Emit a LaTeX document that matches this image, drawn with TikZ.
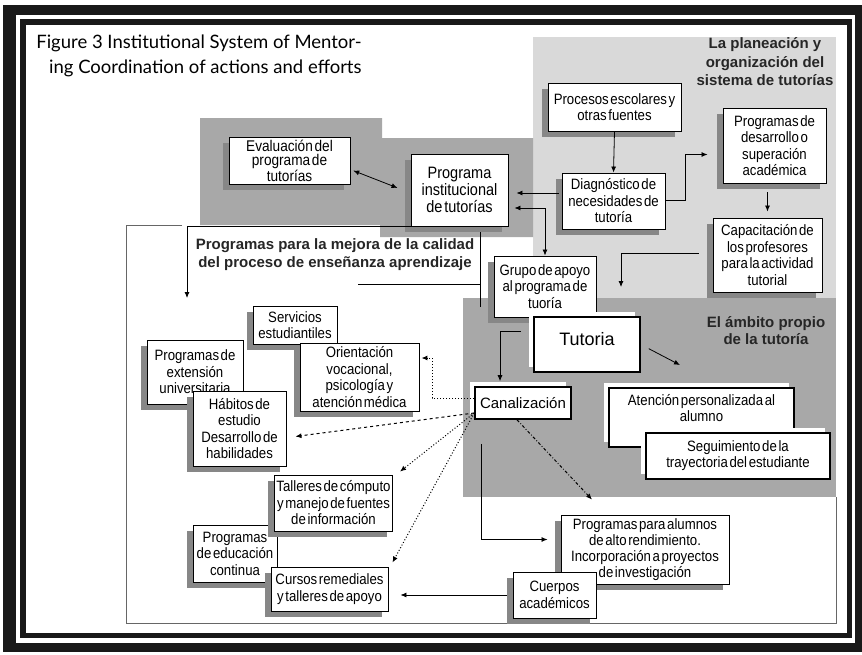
\documentclass[tikz,border=0pt]{standalone}
\usepackage{fontspec}
\setmainfont{Liberation Sans}
\newfontfamily\boxfont{Liberation Sans}[WordSpace=0.45, FakeStretch=0.88]
\newfontfamily\titlefont{Lato}
\usepackage{tikz}
\usetikzlibrary{arrows.meta,shadows}
\definecolor{plangray}{gray}{0.85}
\definecolor{tutorgray}{gray}{0.66}
\definecolor{shadowgray}{gray}{0.53}
\tikzset{
    shadow-box/.style = {draw, fill=white, line width=0.9pt, rectangle, align=center, inner sep=2pt, font=\boxfont\fontsize{15}{16.5}\selectfont, drop shadow={shadow xshift=-6pt, shadow yshift=-6pt, fill=shadowgray, opacity=1}},
    light-box/.style = {draw, fill=white, line width=1.6pt, rectangle, align=center, inner sep=3pt, font=\boxfont\fontsize{15}{16}\selectfont, drop shadow={shadow xshift=-5pt, shadow yshift=5pt, fill=white, opacity=1}},
    region-title/.style = {font=\bfseries\fontsize{15}{17.5}\selectfont, align=center, text=black!85},
    dotted-link/.style = {dotted, line width=1pt, ->},
}

\begin{document}
\begin{tikzpicture}[x=1pt, y=-1pt, line width=0.8pt, >={Latex[length=6pt,width=5pt]}]
\useasboundingbox (0,0) rectangle (862,654);
\fill[white] (0,0) rectangle (862,654);
\fill[black!90] (3,5) rectangle (862,652);
\fill[white] (16,15) rectangle (855,643);
\fill[black!90] (20,19) rectangle (852,638);
\fill[white] (26,25) rectangle (847,633);

\fill[plangray] (533,37) rectangle (836,298);
\fill[tutorgray] (200,118) -- (382,118) -- (382,138) -- (533,138) -- (533,237) -- (380,237) -- (380,225) -- (200,225) -- cycle;
\fill[tutorgray] (463,298) rectangle (836,497);
\draw[black!60] (182,225) -- (126,225) -- (126,623) -- (836,623) -- (836,497);
\draw (480,227) -- (480,307) (358,284) -- (480,284);

\node[anchor=north east, inner sep=0, align=right, font=\titlefont\fontsize{18.5}{25}\selectfont] (fig-title) at (362,34) {Figure 3 Institutional System of Mentor-\\ing Coordination of actions and efforts};
\node[region-title, font=\bfseries\fontsize{15}{18.5}\selectfont] (plan-title) at (765,62) {La planeación y\\organización del\\sistema de tutorías};
\node[region-title] (mejora-title) at (335,254.5) {Programas para la mejora de la calidad\\del proceso de enseñanza aprendizaje};
\node[region-title] (ambito-title) at (766,330.5) {El ámbito propio\\de la tutoría};

\node[shadow-box, minimum width=121pt, minimum height=47pt, font=\boxfont\fontsize{15.5}{14.5}\selectfont] (eval) at (289.5,160.5) {Evaluación del\\programa de\\tutorías};
\node[shadow-box, minimum width=97pt, minimum height=72pt, font=\boxfont\fontsize{16.5}{17}\selectfont] (prog) at (459.5,190) {Programa\\institucional\\de tutorías};
\node[shadow-box, minimum width=133pt, minimum height=48pt] (proc) at (614.5,107) {Procesos escolares y\\otras fuentes};
\node[shadow-box, minimum width=103pt, minimum height=75pt] (desa) at (774.5,145.5) {Programas de\\desarrollo o\\superación\\académica};
\node[shadow-box, minimum width=103pt, minimum height=56pt] (diag) at (613.5,201) {Diagnóstico de\\necesidades de\\tutoría};
\node[shadow-box, minimum width=109pt, minimum height=74pt] (capac) at (767.5,255) {Capacitación de\\los profesores\\para la actividad\\tutorial};
\node[shadow-box, minimum width=102pt, minimum height=61pt] (grupo) at (545,286.5) {Grupo de apoyo\\al programa de\\tuoría};
\node[light-box, minimum width=106pt, minimum height=55pt, text depth=12pt, font=\fontsize{18}{20}\selectfont] (tut) at (587,344.5) {Tutoria};
\node[light-box, minimum width=96pt, minimum height=32pt, font=\fontsize{15}{17}\selectfont] (canal) at (523,403) {Canalización};
\node[light-box, minimum width=185pt, minimum height=59pt] (aten) at (701.5,417.5) {Atención personalizada al\\alumno\\\rule{0pt}{18pt}};
\node[light-box, minimum width=184pt, minimum height=46pt] (seg) at (738,456) {Seguimiento de la\\trayectoria del estudiante};
\node[shadow-box, minimum width=168pt, minimum height=69pt, font=\boxfont\fontsize{15}{16}\selectfont] (alto) at (645,549.5) {Programas para alumnos\\de alto rendimiento.\\Incorporación a proyectos\\de investigación};
\node[shadow-box, minimum width=83pt, minimum height=46pt] (cuerpos) at (554.5,595) {Cuerpos\\académicos};
\node[shadow-box, minimum width=84pt, minimum height=38pt] (serv) at (295,325) {Servicios\\estudiantiles};
\node[shadow-box, minimum width=96pt, minimum height=64pt] (ext) at (195,372) {Programas de\\extensión\\universitaria};
\node[shadow-box, minimum width=119pt, minimum height=68pt] (orien) at (359.5,377) {Orientación\\vocacional,\\psicología y\\atención médica};
\node[shadow-box, minimum width=93pt, minimum height=75pt] (hab) at (239.5,428.5) {Hábitos de\\estudio\\Desarrollo de\\habilidades};
\node[shadow-box, minimum width=84pt, minimum height=57pt] (cont) at (235,553.5) {Programas\\de educación\\continua};
\node[shadow-box, minimum width=117pt, minimum height=56pt] (tall) at (333.5,503) {Talleres de cómputo\\y manejo de fuentes\\de información};
\node[shadow-box, minimum width=117pt, minimum height=44pt] (cursos) at (329.5,589) {Cursos remediales\\y talleres de apoyo};

\coordinate (mejora-in) at (187,298);
\coordinate (tutor-in) at (621,287);
\coordinate (aten-in) at (680,365);

\draw[<->, shorten <=3pt, shorten >=14pt] ([yshift=-9pt]eval.east) -- ([yshift=-3pt]prog.west);
\draw[->] (proc.south) -- (diag.north);
\draw[->, shorten >=15pt] ([yshift=1pt]diag.east) -- ++(20,0) |- ([yshift=-9pt]desa.west);
\draw[->, shorten <=9pt, shorten >=6pt] (desa.south -| capac.north) -- (capac.north);
\draw[->, shorten <=3pt, shorten >=8pt] ([yshift=8pt]diag.west) -- ([yshift=-3pt]prog.east);
\draw[<->, shorten <=6pt] ([yshift=-18pt]prog.east) -| (grupo.north);
\draw[->, shorten <=14pt] ([yshift=2pt]capac.west) -| (tutor-in);
\draw[->] (prog.south west) -| (mejora-in);
\draw[->, shorten <=12pt, shorten >=5pt] ([yshift=13pt]tut.west) -| ([xshift=-23pt]canal.north);
\draw[->, shorten <=9pt] (tut.east) -- (aten-in);

\draw[dotted-link] ([yshift=5pt]canal.west) -| ++(-42,-40) -- ([xshift=2pt,yshift=19pt]orien.east);
\draw[dashed, line width=1pt, ->] ([yshift=-10pt]canal.west) -- ([xshift=9pt,yshift=-8pt]hab.east);
\draw[dotted-link] ([yshift=-10pt]canal.west) -- ([xshift=7pt,yshift=3pt]tall.north east);
\draw[dotted-link] ([yshift=-10pt]canal.west) -- ([xshift=4pt,yshift=4pt]cursos.north east);
\draw[dash dot, line width=1pt, ->] ([xshift=-6pt]canal.south) -- ([xshift=-53pt,yshift=15pt]alto.north);
\draw[->, shorten <=24pt, shorten >=13pt] ([xshift=7pt]canal.south west) |- ([yshift=10pt]alto.west);
\draw[->, shorten <=6pt, shorten >=12pt] (cuerpos.west) -- (cursos.east |- cuerpos.west);
\end{tikzpicture}
\end{document}
